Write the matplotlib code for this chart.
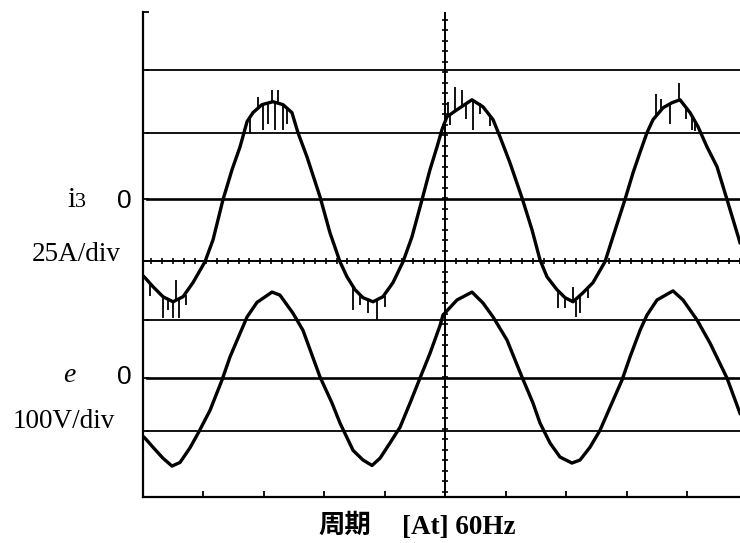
import matplotlib
matplotlib.use("Agg")
import matplotlib.pyplot as plt
import numpy as np

# ---- recorded traces (time in ms, 5 ms/div) ----
t_e = [0, 0.17, 0.83, 1.65, 2.40, 3.06, 3.88, 4.55, 5.54, 6.53,
       7.19, 8.02, 8.60, 9.42, 10.66, 11.32, 12.40, 13.22, 14.63, 15.62,
       16.28, 17.36, 18.18, 18.93, 19.59, 20.41, 21.24, 22.07, 22.89, 23.72,
       24.55, 24.79, 25.95, 27.19, 28.10, 28.93, 30.08, 31.32, 32.23, 32.81,
       33.64, 34.46, 35.45, 36.12, 36.94, 37.77, 38.60, 39.59, 40.25, 41.08,
       41.65, 42.48, 43.80, 44.63, 45.79, 46.86, 48.27, 49.34]
e_volts = [-96, -99, -114, -132, -145, -139, -115, -91, -53, -3,
           35, 74, 101, 125, 142, 137, 107, 79, 2, -41,
           -74, -119, -135, -144, -132, -107, -81, -41, 0, 41,
           87, 104, 129, 142, 124, 101, 63, 2, -41, -74,
           -107, -130, -140, -135, -114, -86, -48, -3, 35, 79,
           104, 129, 144, 129, 96, 58, 0, -58]

t_i3 = [0, 0.17, 0.83, 1.65, 2.48, 3.31, 4.13, 5.12, 5.79, 6.61,
        7.36, 8.02, 8.60, 9.09, 9.83, 10.74, 11.57, 12.31, 12.81, 13.55,
        14.63, 15.45, 16.28, 16.86, 17.52, 18.18, 19.01, 19.83, 20.66, 21.49,
        22.23, 23.06, 23.72, 24.30, 24.71, 25.12, 25.95, 27.19, 28.10, 28.93,
        29.50, 30.33, 31.32, 32.15, 32.81, 33.39, 34.21, 34.88, 35.54, 36.36,
        37.19, 38.18, 38.84, 39.83, 40.50, 41.07, 41.65, 42.15, 42.98, 43.72,
        44.38, 45.21, 45.87, 46.61, 47.44, 48.27, 49.34]
i3_amps = [-31.8, -32.6, -36.3, -40.4, -42.5, -40.4, -34.6, -26.0, -16.9, -0.4,
           12.0, 21.4, 31.8, 35.5, 38.8, 40.0, 38.8, 35.5, 27.2, 17.3,
           0.8, -14.0, -26.0, -32.2, -37.5, -40.8, -42.5, -40.4, -34.6, -26.0,
           -15.7, -0.4, 12.0, 21.4, 28.5, 33.8, 36.7, 40.8, 37.9, 32.6,
           25.6, 14.8, 0.4, -12.8, -25.2, -32.2, -37.5, -40.8, -42.5, -38.8,
           -34.6, -26.0, -15.7, -0.4, 10.7, 19.0, 27.2, 32.6, 37.5, 39.6,
           40.8, 35.5, 29.7, 21.4, 13.2, -0.4, -18.1]

# switching spikes riding on the current trace (A)
spike_t = [0.58, 1.65, 2.07, 2.48, 2.73, 2.98, 3.55,
           8.84, 9.50, 9.92, 10.33, 10.66, 10.91, 11.16, 11.57, 11.90,
           17.36, 17.93, 18.60, 19.34, 20.00,
           25.20, 25.37, 25.78, 26.36, 26.70, 27.27, 27.85, 28.68,
           34.30, 34.88, 35.54, 35.79, 36.12, 36.78,
           42.40, 42.80, 43.55, 44.30, 44.90, 45.37, 45.60]
spike_from = [-35.0, -40.4, -41.5, -42.5, -42.0, -41.5, -39.5,
              33.0, 37.0, 39.0, 39.5, 40.0, 40.0, 39.5, 38.8, 37.0,
              -36.0, -39.5, -41.5, -42.0, -40.0,
              34.0, 35.0, 36.5, 38.0, 39.0, 40.5, 39.5, 35.0,
              -37.5, -41.0, -42.5, -42.0, -40.0, -37.0,
              34.0, 37.0, 39.0, 40.5, 38.0, 34.5, 32.0]
spike_to = [-40.0, -49.1, -46.0, -49.1, -33.4, -49.1, -44.0,
            27.0, 42.0, 28.5, 31.0, 45.0, 28.5, 45.0, 28.5, 31.0,
            -45.8, -44.0, -47.0, -49.9, -44.5,
            40.0, 30.5, 46.2, 45.0, 33.0, 28.5, 35.0, 30.0,
            -45.0, -45.0, -36.3, -48.7, -47.0, -41.0,
            43.3, 41.0, 30.9, 47.8, 33.0, 28.5, 28.0]

# ---- screen set-up ----
MS_PER_DIV = 5.0
I3_PER_DIV = 25.0      # A/div
E_PER_DIV = 100.0      # V/div
I3_ZERO = 0.92         # channel baselines in divisions
E_ZERO = -2.04
CENTER_Y = -0.11
T_CENTER = 25.0
T_END = 49.34
screen_lines = [3.04, 2.0, -1.08, -2.91]
zero_lines = [I3_ZERO, E_ZERO]

W, H = 740, 543
fig = plt.figure(figsize=(W / 100, H / 100), dpi=100)
ax = fig.add_axes([143 / W, 46 / H, 597 / W, 485 / H])
ax.set_xlim(0, T_END)
ax.set_ylim(-4, 4)

for s in ("top", "right"):
    ax.spines[s].set_visible(False)
for s in ("left", "bottom"):
    ax.spines[s].set_linewidth(1.6)
    ax.spines[s].set_color("black")

ax.set_xticks(np.arange(0, T_END, MS_PER_DIV))
ax.set_yticks([4.0] + screen_lines + zero_lines + [CENTER_Y])
ax.tick_params(axis="both", direction="in", length=4, width=1.3,
               labelbottom=False, labelleft=False, color="black")

# graticule
frac0 = 0.3 / T_END
for y in screen_lines:
    ax.axhline(y, xmin=frac0, color="black", lw=1.3, zorder=1)
for y in zero_lines:
    ax.axhline(y, xmin=frac0, color="black", lw=1.9, zorder=1)
ax.axhline(CENTER_Y, color="black", lw=1.4, zorder=1)
ax.axvline(T_CENTER, color="black", lw=1.4, zorder=1)

# minor ticks on the centre cross
step_t = 0.9
tx = np.concatenate([np.arange(T_CENTER, 0, -step_t), np.arange(T_CENTER + step_t, T_END, step_t)])
ax.plot(tx, np.full_like(tx, CENTER_Y), ls="none", marker="|", ms=5, mew=1.2,
        color="black", zorder=2)
step_y = 0.173
ty = np.concatenate([np.arange(CENTER_Y, 4.0, step_y), np.arange(CENTER_Y - step_y, -4.0, -step_y)])
ax.plot(np.full_like(ty, T_CENTER), ty, ls="none", marker="_", ms=5, mew=1.2,
        color="black", zorder=2)

# traces
ax.plot(np.array(t_i3), I3_ZERO + np.array(i3_amps) / I3_PER_DIV, color="black", lw=2.4,
        solid_joinstyle="round", zorder=3)
ax.vlines(spike_t, I3_ZERO + np.array(spike_from) / I3_PER_DIV,
          I3_ZERO + np.array(spike_to) / I3_PER_DIV, color="black", lw=1.3, zorder=3)
ax.plot(np.array(t_e), E_ZERO + np.array(e_volts) / E_PER_DIV, color="black", lw=2.4,
        solid_joinstyle="round", zorder=3)

# labels
serif = "Liberation Serif"
sans = "Liberation Sans"


def fx(px):
    return px / W


def fy(py):
    return (H - py) / H


fig.text(fx(67), fy(207), "i", family=serif, fontsize=21, va="baseline")
fig.text(fx(75), fy(207), "3", family=serif, fontsize=16, va="baseline")
fig.text(fx(124), fy(208), "0", family=sans, fontsize=19, va="baseline", ha="center")
fig.text(fx(32), fy(261), "25A/div", family=serif, fontsize=19.5, va="baseline")
fig.text(fx(63), fy(382), "e", family=serif, style="italic", fontsize=20, va="baseline")
fig.text(fx(124), fy(384), "0", family=sans, fontsize=19, va="baseline", ha="center")
fig.text(fx(13), fy(428), "100V/div", family=serif, fontsize=19.5, va="baseline")
fig.text(fx(318), fy(533), "周期", family="Noto Sans CJK SC", fontweight="bold",
         fontsize=19, va="baseline")
fig.text(fx(402), fy(534), "[At] 60Hz", family=serif, fontweight="bold",
         fontsize=19.5, va="baseline")

fig.savefig("out.png", dpi=100, facecolor="white")
